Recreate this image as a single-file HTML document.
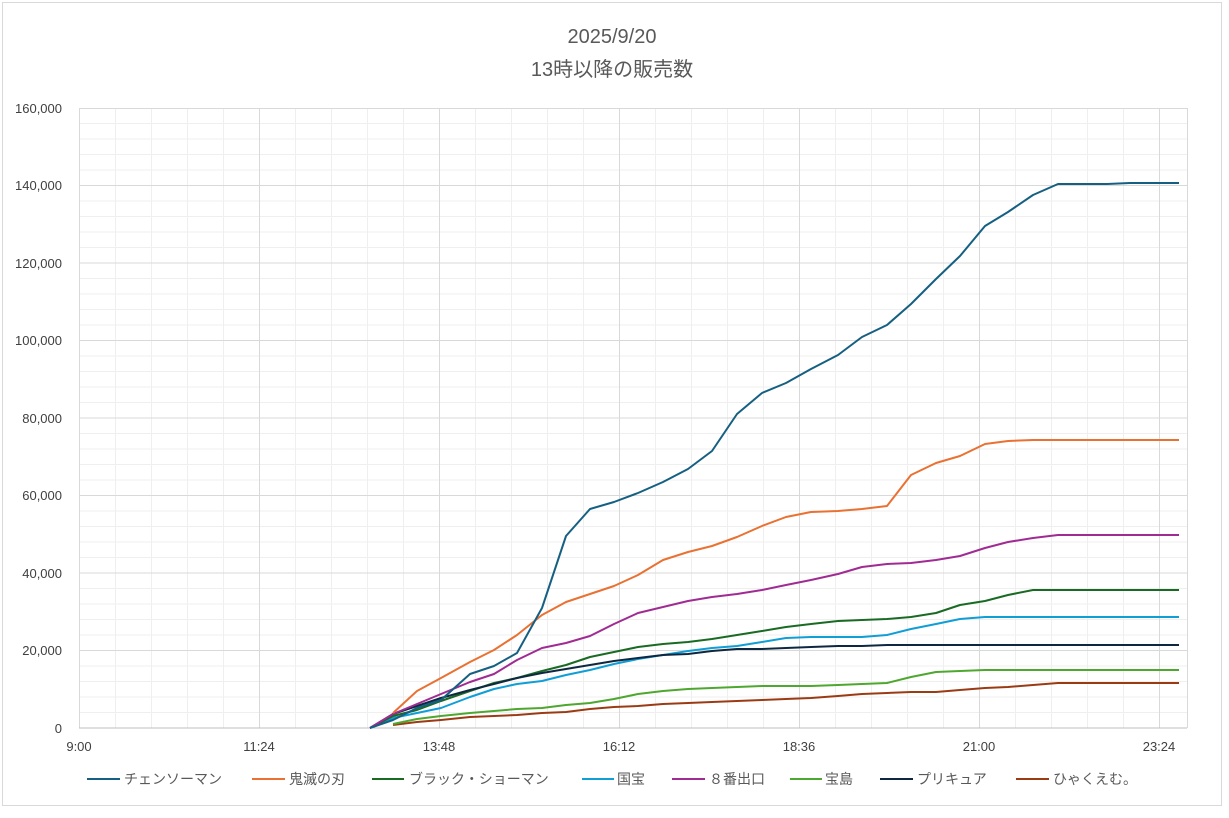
<!DOCTYPE html><html><head><meta charset="utf-8"><style>body{margin:0;background:#fff}</style></head><body>
<svg width="1229" height="813" xmlns="http://www.w3.org/2000/svg" font-family="Liberation Sans, Noto Sans CJK JP, sans-serif">
<rect x="0" y="0" width="1229" height="813" fill="#fff"/>
<rect x="2.5" y="2.5" width="1219" height="803" fill="none" stroke="#d9d9d9"/>
<text x="612" y="43" text-anchor="middle" font-size="20" fill="#595959">2025/9/20</text>
<text x="612" y="76" text-anchor="middle" font-size="20" fill="#595959">13時以降の販売数</text>
<path fill="none" stroke="#efefef" d="M79 123.5H1187M79 139H1187M79 154.5H1187M79 170H1187M79 201H1187M79 216.5H1187M79 232H1187M79 247.5H1187M79 278.5H1187M79 294H1187M79 309.5H1187M79 325H1187M79 356H1187M79 371.5H1187M79 387H1187M79 402.5H1187M79 433.5H1187M79 449H1187M79 464.5H1187M79 480H1187M79 511H1187M79 526.5H1187M79 542H1187M79 557.5H1187M79 588.5H1187M79 604H1187M79 619.5H1187M79 635H1187M79 666H1187M79 681.5H1187M79 697H1187M79 712.5H1187
M115.5 108V728M151.5 108V728M187.5 108V728M223.5 108V728M295.5 108V728M331.5 108V728M367.5 108V728M403.5 108V728M475.5 108V728M511.5 108V728M547.5 108V728M583.5 108V728M655.5 108V728M691.5 108V728M727.5 108V728M763.5 108V728M835.5 108V728M871.5 108V728M907.5 108V728M943.5 108V728M1015.5 108V728M1051.5 108V728M1087.5 108V728M1123.5 108V728"/>
<path fill="none" stroke="#d9d9d9" d="M79 108.5H1187M79 185.5H1187M79 263H1187M79 340.5H1187M79 418H1187M79 495.5H1187M79 573H1187M79 650.5H1187
M79.5 108V728M259.5 108V728M439.5 108V728M619.5 108V728M799.5 108V728M979.5 108V728M1159.5 108V728M1187.5 108V728"/>
<line x1="79" x2="1187" y1="728" y2="728" stroke="#bfbfbf"/>
<g font-size="13" fill="#404040" text-anchor="end">
<text x="62" y="733">0</text><text x="62" y="655">20,000</text><text x="62" y="578">40,000</text><text x="62" y="500">60,000</text><text x="62" y="423">80,000</text><text x="62" y="345">100,000</text><text x="62" y="268">120,000</text><text x="62" y="190">140,000</text><text x="62" y="113">160,000</text>
</g>
<g font-size="13" fill="#404040" text-anchor="middle">
<text x="79" y="751">9:00</text><text x="259" y="751">11:24</text><text x="439" y="751">13:48</text><text x="619" y="751">16:12</text><text x="799" y="751">18:36</text><text x="979" y="751">21:00</text><text x="1159" y="751">23:24</text>
</g>
<g fill="none" stroke-width="2" stroke-linejoin="round">
<polyline stroke="#9B3B14" points="393,725 417,722 441,720 470,717 494,716 517,715 542,713 566,712 590,709 614,707 638,706 663,704 688,703 712,702 737,701 762,700 786,699 811,698 838,696 862,694 887,693 911,692 936,692 960,690 985,688 1008,687 1033,685 1058,683 1082,683 1107,683 1130,683 1155,683 1179,683"/>
<polyline stroke="#4EA72E" points="393,724 417,719 441,716 470,713 494,711 517,709 542,708 566,705 590,703 614,699 638,694 663,691 688,689 712,688 737,687 762,686 786,686 811,686 838,685 862,684 887,683 911,677 936,672 960,671 985,670 1008,670 1033,670 1058,670 1082,670 1107,670 1130,670 1155,670 1179,670"/>
<polyline stroke="#0F9ED5" points="370,728 393,718 417,713 441,708 470,697 494,689 517,684 542,681 566,675 590,670 614,664 638,659 663,655 688,651 712,648 737,646 762,642 786,638 811,637 838,637 862,637 887,635 911,629 936,624 960,619 985,617 1008,617 1033,617 1058,617 1082,617 1107,617 1130,617 1155,617 1179,617"/>
<polyline stroke="#196B24" points="370,728 393,716 417,710 441,701 470,691 494,683 517,678 542,671 566,665 590,657 614,652 638,647 663,644 688,642 712,639 737,635 762,631 786,627 811,624 838,621 862,620 887,619 911,617 936,613 960,605 985,601 1008,595 1033,590 1058,590 1082,590 1107,590 1130,590 1155,590 1179,590"/>
<polyline stroke="#0E2841" points="370,728 393,714 417,706 441,698 470,690 494,684 517,678 542,673 566,669 590,665 614,661 638,658 663,655 688,654 712,651 737,649 762,649 786,648 811,647 838,646 862,646 887,645 911,645 936,645 960,645 985,645 1008,645 1033,645 1058,645 1082,645 1107,645 1130,645 1155,645 1179,645"/>
<polyline stroke="#A02B93" points="370,728 393,714 417,704 441,694 470,682 494,674 517,660 542,648 566,643 590,636 614,624 638,613 663,607 688,601 712,597 737,594 762,590 786,585 811,580 838,574 862,567 887,564 911,563 936,560 960,556 985,548 1008,542 1033,538 1058,535 1082,535 1107,535 1130,535 1155,535 1179,535"/>
<polyline stroke="#E97132" points="393,713 417,691 441,678 470,662 494,650 517,635 542,615 566,602 590,594 614,586 638,575 663,560 688,552 712,546 737,537 762,526 786,517 811,512 838,511 862,509 887,506 911,475 936,463 960,456 985,444 1008,441 1033,440 1058,440 1082,440 1107,440 1130,440 1155,440 1179,440"/>
<polyline stroke="#156082" points="370,728 393,720 417,708 441,700 470,674 494,666 517,653 542,608 566,536 590,509 614,502 638,493 663,482 688,469 712,451 737,414 762,393 786,383 811,369 838,355 862,337 887,325 911,304 936,279 960,256 985,226 1008,212 1033,195 1058,184 1082,184 1107,184 1130,183 1155,183 1179,183"/>
</g>
<g stroke-width="2">
<line x1="87" y1="779" x2="120" y2="779" stroke="#156082"/>
<line x1="252" y1="779" x2="285" y2="779" stroke="#E97132"/>
<line x1="372" y1="779" x2="404" y2="779" stroke="#196B24"/>
<line x1="582" y1="779" x2="614" y2="779" stroke="#0F9ED5"/>
<line x1="672" y1="779" x2="705" y2="779" stroke="#A02B93"/>
<line x1="790" y1="779" x2="822" y2="779" stroke="#4EA72E"/>
<line x1="880" y1="779" x2="913" y2="779" stroke="#0E2841"/>
<line x1="1016" y1="779" x2="1049" y2="779" stroke="#9B3B14"/>
</g>
<g font-size="14" fill="#595959">
<text x="124" y="784">チェンソーマン</text>
<text x="289" y="784">鬼滅の刃</text>
<text x="409" y="784">ブラック・ショーマン</text>
<text x="617" y="784">国宝</text>
<text x="709" y="784">８番出口</text>
<text x="825" y="784">宝島</text>
<text x="917" y="784">プリキュア</text>
<text x="1053" y="784">ひゃくえむ。</text>
</g>
</svg>
</body></html>
